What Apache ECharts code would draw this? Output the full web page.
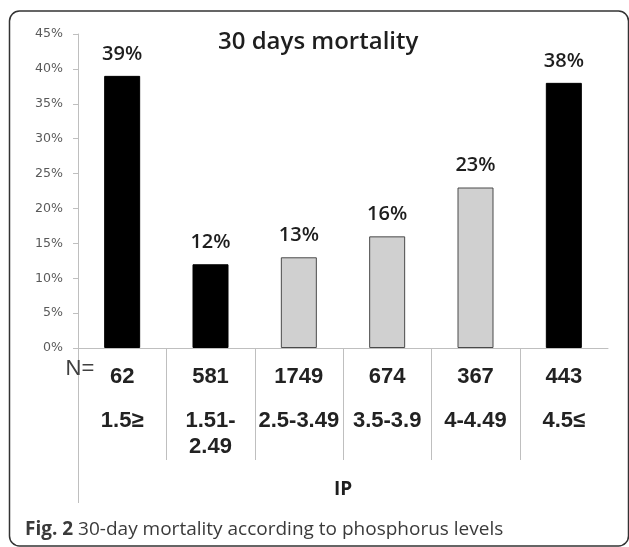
<!DOCTYPE html>
<html>
<head>
<meta charset="utf-8">
<script src="https://cdn.jsdelivr.net/npm/echarts@6/dist/echarts.min.js"></script>
<style>
  html, body { margin: 0; padding: 0; background: #ffffff; }
  #chart { width: 629px; height: 547px; }
</style>
</head>
<body>
<div id="chart"></div>
<script>
// Phosphorus level groups (IP) and the patients in each group
const ipRanges = ['1.5≥', '1.51-\n2.49', '2.5-3.49', '3.5-3.9', '4-4.49', '4.5≤'];
const patientCounts = [62, 581, 1749, 674, 367, 443];
// 30-day mortality per group, percent
const mortalityPct = [39, 12, 13, 16, 23, 38];
// Percentage axis
const yMin = 0, yMax = 45, yStep = 5;

// Extreme groups are drawn dark, middle groups light
const barFills = ['#000000', '#000000', '#d0d0d0', '#d0d0d0', '#d0d0d0', '#000000'];
const barEdges = ['#000000', '#000000', '#4a4a4a', '#4a4a4a', '#4a4a4a', '#000000'];

const gridLine = '#bfbfbf';
const tableFont = 'Liberation Sans, Arial, sans-serif';
const textFont = 'Open Sans, sans-serif';

const chart = echarts.init(document.getElementById('chart'), null, { renderer: 'canvas' });

const option = {
  backgroundColor: '#ffffff',
  animation: false,
  title: [
    {
      text: '30 days mortality',
      left: 218,
      top: 30,
      padding: 0,
      textStyle: { fontFamily: textFont, fontSize: 24, fontWeight: 600, color: '#1e1e1e' }
    },
    {
      text: '{b|Fig. 2} 30-day mortality according to phosphorus levels',
      left: 25,
      top: 520,
      padding: 0,
      textStyle: {
        fontFamily: textFont, fontSize: 19, fontWeight: 'normal', color: '#3a3a3a',
        rich: { b: { fontFamily: textFont, fontSize: 19, fontWeight: 'bold', color: '#3a3a3a' } }
      }
    }
  ],
  grid: { left: 78, right: 21, top: 34, bottom: 199, containLabel: false },
  xAxis: [
    {
      type: 'category',
      data: ipRanges,
      position: 'bottom',
      axisLine: { show: true, lineStyle: { color: gridLine, width: 1 } },
      axisTick: { show: false },
      axisLabel: {
        interval: 0, margin: 60,
        fontFamily: tableFont, fontSize: 22, fontWeight: 'bold', color: '#222222',
        lineHeight: 26, hideOverlap: false
      },
      name: 'IP',
      nameLocation: 'middle',
      nameGap: 132,
      nameTextStyle: { fontFamily: textFont, fontSize: 19, fontWeight: 'bold', color: '#1e1e1e' }
    },
    {
      type: 'category',
      data: patientCounts.map(String),
      position: 'bottom',
      axisLine: { show: false },
      axisTick: { show: false },
      axisLabel: {
        interval: 0, margin: 17,
        fontFamily: tableFont, fontSize: 22, fontWeight: 'bold', color: '#222222',
        lineHeight: 24, hideOverlap: false
      }
    }
  ],
  yAxis: {
    type: 'value',
    min: yMin, max: yMax, interval: yStep,
    axisLine: { show: true, lineStyle: { color: gridLine, width: 1 } },
    axisTick: { show: true, length: 5, inside: false, lineStyle: { color: gridLine } },
    splitLine: { show: false },
    axisLabel: {
      margin: 15,
      formatter: '{value}%',
      fontFamily: 'DejaVu Sans, sans-serif', fontSize: 12.6, color: '#595959'
    }
  },
  series: [
    {
      type: 'bar',
      xAxisIndex: 0,
      yAxisIndex: 0,
      barWidth: 36,
      data: mortalityPct.map((v, i) => ({
        value: v,
        itemStyle: { color: barFills[i], borderColor: barEdges[i], borderWidth: 1 }
      })),
      label: {
        show: true,
        position: 'top',
        distance: 12,
        formatter: p => p.value + '%',
        fontFamily: textFont, fontSize: 20, fontWeight: 600, color: '#1e1e1e'
      }
    }
  ]
};

chart.setOption(option);

// Table rules under the category axis, placed from the axis scale
const axisY = chart.convertToPixel({ yAxisIndex: 0 }, yMin);
const c0 = chart.convertToPixel({ xAxisIndex: 0 }, 0);
const c1 = chart.convertToPixel({ xAxisIndex: 0 }, 1);
const band = c1 - c0;
const graphics = [];

// outer frame around figure and caption
graphics.push({
  type: 'rect',
  shape: { x: 9.5, y: 11, width: 619, height: 535, r: 10 },
  style: { fill: 'none', stroke: '#333333', lineWidth: 1.5 },
  silent: true, z: 0
});

// left rule spans both label rows and the group title row
const leftX = Math.round(c0 - band / 2) + 0.5;
graphics.push({
  type: 'line',
  shape: { x1: leftX, y1: axisY, x2: leftX, y2: axisY + 155 },
  style: { stroke: gridLine, lineWidth: 1 },
  silent: true
});

// rules between neighbouring groups
for (let i = 1; i < ipRanges.length; i++) {
  const cx = chart.convertToPixel({ xAxisIndex: 0 }, i);
  const bx = Math.round(cx - band / 2) + 0.5;
  graphics.push({
    type: 'line',
    shape: { x1: bx, y1: axisY, x2: bx, y2: axisY + 112 },
    style: { stroke: gridLine, lineWidth: 1 },
    silent: true
  });
}

// row heading for patient counts
graphics.push({
  type: 'text',
  x: leftX - 13,
  y: axisY + 21,
  style: {
    text: 'N=',
    fontFamily: tableFont, fontSize: 22, fill: '#404040',
    textAlign: 'left', textVerticalAlign: 'middle'
  },
  silent: true
});

chart.setOption({ graphic: graphics });
</script>
</body>
</html>
